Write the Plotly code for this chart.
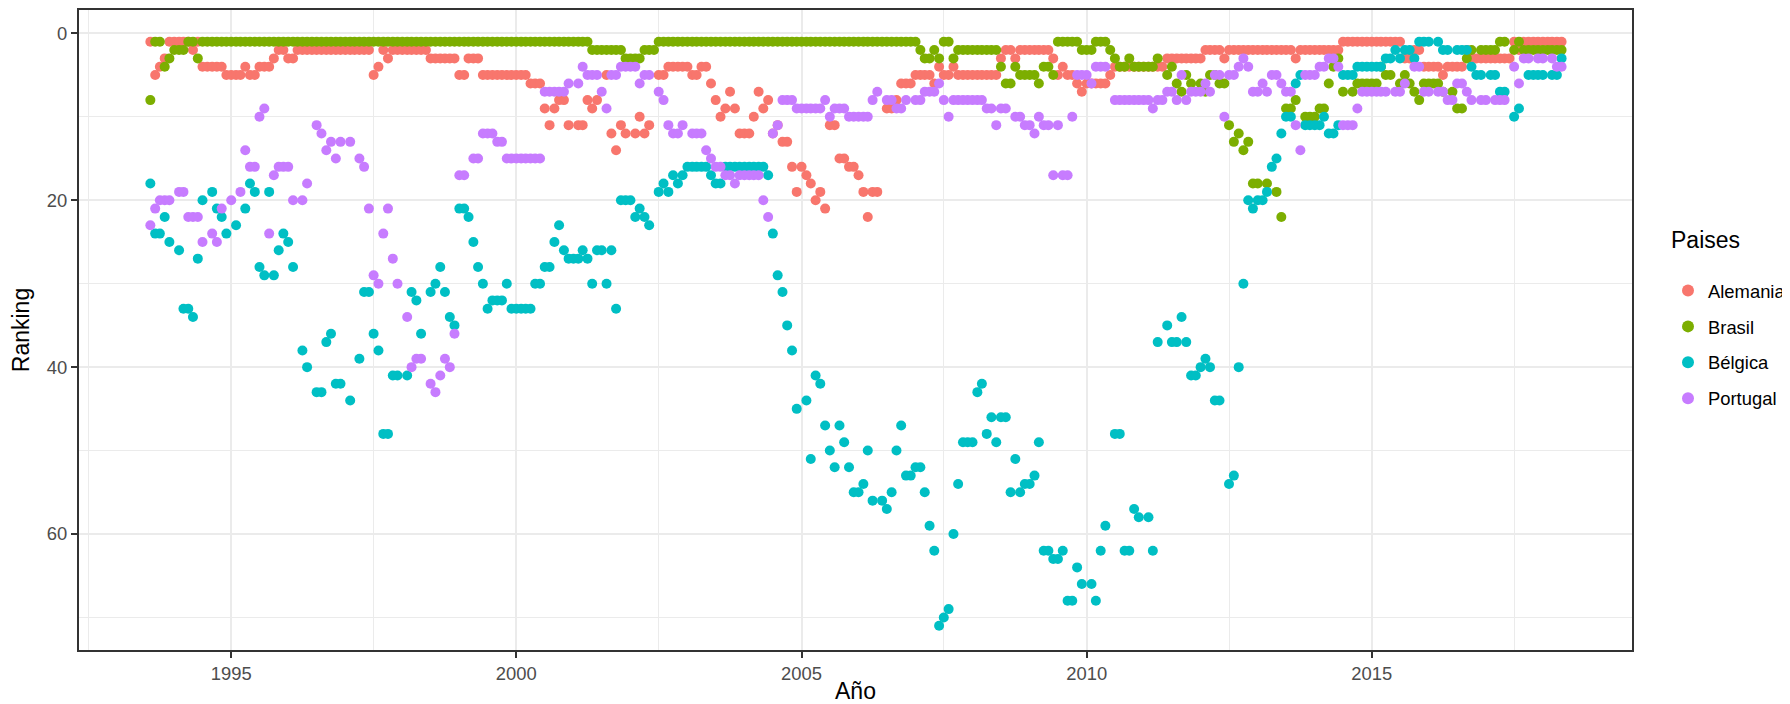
import pandas as pd
import plotly.graph_objects as go

# Monthly FIFA ranking dates (Aug 1993 - May 2018)
fechas = pd.date_range("1993-08-01", periods=298, freq="MS")

N = None
alemania = (
    [1, 5, 4, 3, 1]                                   # 1993
    + [1, 1, 1, 1, 2, 1, 4, 4, 4, 4, 4, 5]            # 1994
    + [5, 5, 5, 4, 5, 5, 4, 4, 4, 3, 2, 2]            # 1995
    + [3, 3, 2, 2, 2, 2, 2, 2, 2, 2, 2, 2]            # 1996
    + [2, 2, 2, 2, 2, 2, 5, 4, 2, 3, 2, 2]            # 1997
    + [2, 2, 2, 2, 2, 2, 3, 3, 3, 3, 3, 3]            # 1998
    + [5, 5, 3, 3, 3, 5, 5, 5, 5, 5, 5, 5]            # 1999
    + [5, 5, 5, 6, 6, 6, 9, 11, 9, 8, 8, 11]          # 2000
    + [N, 11, 11, 8, 9, 8, N, 5, 12, 14, 11, 12]      # 2001
    + [N, 12, 10, 12, 11, N, 5, 5, 4, 4, 4, 4]        # 2002
    + [4, 5, 5, 4, 4, 6, 8, 10, 9, 7, 9, 12]          # 2003
    + [12, 12, 10, 7, 9, 8, 12, 11, 13, 13, 16, 19]   # 2004
    + [16, 17, 18, 20, 19, 21, 11, 11, 15, 15, 16, 16]  # 2005
    + [17, 19, 22, 19, 19, N, 9, 9, 8, 6, 6, 6]       # 2006
    + [5, 5, 5, 5, 6, 4, 5, 5, 4, 5, 5, 5]            # 2007
    + [5, 5, 5, 5, 5, 5, 3, 2, 2, 3, 2, 2]            # 2008
    + [2, 2, 2, 2, 2, 3, 5, 4, 5, 5, 6, 7]            # 2009
    + [6, 6, 6, 6, 6, 5, 4, 4, 4, 4, 4, 4]            # 2010
    + [4, 4, 4, 4, 4, 3, 3, 3, 3, 3, 3, 3]            # 2011
    + [3, 2, 2, 2, 2, 3, 2, 2, 2, 2, 2, 2]            # 2012
    + [2, 2, 2, 2, 2, 2, 2, 2, 3, 2, 2, 2]            # 2013
    + [2, 2, 2, 2, 2, 2, 1, 1, 1, 1, 1, 1]            # 2014
    + [1, 1, 1, 1, 1, 1, 1, 3, 3, 2, 2, 4]            # 2015
    + [4, 4, 4, 5, 4, 4, 4, 4, 2, 3, 3, 3]            # 2016
    + [3, 3, 3, 3, 3, 3, 1, 2, 1, 1, 1, 1]            # 2017
    + [1, 1, 1, 1, 1]                                 # 2018
)
brasil = (
    [8, 1, 1, 4, 3]
    + [2, 2, 2, 1, 1, 3, 1, 1, 1, 1, 1, 1]
    + [1] * 12
    + [1] * 12
    + [1] * 12
    + [1] * 12
    + [1] * 12
    + [1] * 12
    + [1, 1, 1, 1, 2, 2, 2, 2, 2, 2, 2, 3]
    + [3, 3, 3, 2, 2, 2, 1, 1, 1, 1, 1, 1]
    + [1] * 12
    + [1] * 12
    + [1] * 12
    + [1] * 12
    + [1, 2, 3, 3, 2, 3, 1, 1, 3, 2, 2, 2]
    + [2, 2, 2, 2, 2, 2, 4, 6, 6, 4, 5, 5]
    + [5, 5, 6, 4, 4, 5, 1, 1, 1, 1, 1, 2]
    + [2, 2, 1, 1, 1, 2, 3, 4, 4, 3, 4, 4]
    + [4, 4, 4, 3, N, 5, 4, 6, 7, 5, 6, N]
    + [6, 7, 5, 5, 6, 6, 11, 13, 12, 14, 13, 18]
    + [18, N, 18, N, 19, 22, 9, 9, 8, N, 10, 10]
    + [10, 9, 9, 6, 4, 3, 7, N, 7, 6, 6, 6]
    + [6, 6, 4, 5, 5, N, 6, 5, 6, 7, 8, 6]
    + [6, 6, 6, 7, N, 7, 9, 9, 3, 2, N, 2]
    + [2, 2, 2, 1, 1, N, 2, 1, 2, 2, 2, 2]
    + [2, 2, 2, 2, 2]
)
belgica = (
    [18, 24, 24, 22, 25]
    + [N, 26, 33, 33, 34, 27, 20, N, 19, 21, 22, 24]
    + [N, 23, N, 21, 18, 19, 28, 29, 19, 29, 26, 24]
    + [25, 28, N, 38, 40, N, 43, 43, 37, 36, 42, 42]
    + [N, 44, N, 39, 31, 31, 36, 38, 48, 48, 41, 41]
    + [N, 41, 31, 32, 36, N, 31, 30, 28, 31, 34, 35]
    + [21, 21, 22, 25, 28, 30, 33, 32, 32, 32, 30, 33]
    + [33, 33, 33, 33, 30, 30, 28, 28, 25, 23, 26, 27]
    + [27, 27, 26, 27, 30, 26, 26, 30, 26, 33, 20, 20]
    + [20, 22, 21, 22, 23, N, 19, 18, 19, 17, 18, 17]
    + [16, 16, 16, 16, 16, 17, 18, 18, 16, 16, 16, 16]
    + [16, 16, 16, 16, 16, 17, 24, 29, 31, 35, 38, 45]
    + [N, 44, 51, 41, 42, 47, 50, 52, 47, 49, 52, 55]
    + [55, 54, 50, 56, N, 56, 57, 55, 50, 47, 53, 53]
    + [52, 52, 55, 59, 62, 71, 70, 69, 60, 54, 49, 49]
    + [49, 43, 42, 48, 46, 49, 46, 46, 55, 51, 55, 54]
    + [54, 53, 49, 62, 62, 63, 63, 62, 68, 68, 64, 66]
    + [N, 66, 68, 62, 59, N, 48, 48, 62, 62, 57, 58]
    + [N, 58, 62, 37, N, 35, 37, 37, 34, 37, 41, 41]
    + [40, 39, 40, 44, 44, N, 54, 53, 40, 30, 20, 21]
    + [20, 20, 19, 16, 15, 12, 10, 10, 6, 5, 11, 11]
    + [11, 11, 10, 12, 12, 11, 5, 5, 5, 4, 4, 4]
    + [4, 4, 4, 3, 3, 2, 3, 2, 2, 3, 1, 1]
    + [1, N, 1, 2, 2, N, 2, 2, 2, 4, 5, 5]
    + [N, 5, 5, 7, 7, N, 10, 9, N, 5, 5, 5]
    + [5, N, 5, 5, 3]
)
portugal = (
    [23, 21, 20, 20, 20]
    + [N, 19, 19, 22, 22, 22, 25, N, 24, 25, 21, N]
    + [20, N, 19, 14, 16, 16, 10, 9, 24, 17, 16, 16]
    + [16, 20, N, 20, 18, N, 11, 12, 14, 13, 15, 13]
    + [N, 13, N, 15, 16, 21, 29, 30, 24, 21, 27, 30]
    + [N, 34, 40, 39, 39, N, 42, 43, 41, 39, 40, 36]
    + [17, 17, N, 15, 15, 12, 12, 12, 13, 13, 15, 15]
    + [15, 15, 15, 15, 15, 15, 7, 7, 7, 7, 7, 6]
    + [N, 6, 4, 5, 5, 5, 7, 9, 5, 5, 4, 4]
    + [4, 4, 6, 5, 5, N, 7, 8, 11, 12, 12, 11]
    + [N, 12, 12, 12, 14, 15, 16, 16, 17, 17, 18, 17]
    + [17, 17, 17, 17, 20, 22, 12, 11, 8, 8, 8, 9]
    + [9, 9, 9, 9, 9, 8, 10, 9, 9, 9, 10, 10]
    + [10, 10, 10, 8, 7, N, 8, 8, 9, 9, 8, N]
    + [8, 8, 7, 7, 7, 6, 8, 10, 8, 8, 8, 8]
    + [8, 8, 8, 9, 9, 11, 9, 9, N, 10, 10, 11]
    + [11, 12, 10, 11, 11, 17, 11, 17, 17, 10, 5, 5]
    + [5, 6, 4, 4, 4, N, 8, 8, 8, 8, 8, 8]
    + [8, 8, 9, 8, 8, 7, 7, 8, 5, 8, 7, 7]
    + [7, 6, 7, 5, 5, 10, 5, 5, 4, 3, 4, 7]
    + [7, 6, 7, 5, 5, 6, 7, 7, 11, 14, 5, 5]
    + [5, 4, 4, 3, 3, 4, 11, 11, 11, 9, 7, 7]
    + [7, 7, 7, 7, N, 7, 7, 6, N, 4, 4, 7]
    + [7, N, 7, 7, 8, 8, 6, 6, 7, 8, N, 8]
    + [8, N, 8, 8, 8, N, 4, 6, 3, 3, N, 3]
    + [3, N, 3, 4, 4]
)

paises = ["Alemania", "Brasil", "Bélgica", "Portugal"]
series = [alemania, brasil, belgica, portugal]
colores = ["#F8766D", "#7CAE00", "#00BFC4", "#C77CFF"]

FONT = "Liberation Sans, Arial, sans-serif"

# The page body adds an 8px margin, so the figure is drawn 8px smaller
OFF = 8
W, H = 1790 - OFF, 704 - OFF
# plot panel in page pixels: x 79..1632, y 10..650
L = 79 - OFF
T = 10 - OFF
R = W - (1632 - OFF)
B = H - (650 - OFF)
PW, PH = W - L - R, H - T - B


def px_x(page_x):
    return (page_x - OFF - L) / PW


def px_y(page_y):
    return (H - B - (page_y - OFF)) / PH


fig = go.Figure()
for nombre, vals, col in zip(paises, series, colores):
    assert len(vals) == len(fechas)
    fig.add_trace(go.Scatter(
        x=fechas, y=vals, mode="markers", name=nombre,
        legendgroup=nombre,
        marker=dict(color=col, size=10, line=dict(width=0)),
    ))

axis_common = dict(
    showgrid=True, gridcolor="#EBEBEB", gridwidth=2.2,
    zeroline=False, automargin=False,
    showline=True, linecolor="#333333", linewidth=2, mirror=True,
    ticks="outside", ticklen=6, tickwidth=2, tickcolor="#333333",
    tickfont=dict(family=FONT, size=18.4, color="#4D4D4D"),
)

fig.update_layout(
    width=W, height=H,
    paper_bgcolor="white", plot_bgcolor="white",
    margin=dict(l=L, r=R, t=T, b=B, autoexpand=False),
    font=dict(family=FONT),
    xaxis=dict(
        **axis_common,
        type="date",
        range=["1992-05-01", "2019-07-26"],
        tick0="1995-01-01", dtick="M60", tickformat="%Y",
        minor=dict(tick0="1992-07-02", dtick="M60", showgrid=True,
                   gridcolor="#EBEBEB", gridwidth=1.1, ticks=""),
        title=dict(text="Año", font=dict(family=FONT, size=23, color="black"),
                   standoff=11),
    ),
    yaxis=dict(
        **axis_common,
        range=[73.9, -2.8],
        tickvals=[0, 20, 40, 60],
        minor=dict(tickvals=[10, 30, 50, 70], showgrid=True,
                   gridcolor="#EBEBEB", gridwidth=1.1, ticks=""),
        title=dict(text="Ranking", font=dict(family=FONT, size=23, color="black"),
                   standoff=12),
    ),
    legend=dict(
        font=dict(family=FONT, size=18.4, color="black"),
        x=px_x(1668), xanchor="left",
        y=px_y(272), yanchor="top",
        tracegroupgap=9, bgcolor="rgba(0,0,0,0)",
        itemsizing="constant",
    ),
    annotations=[dict(
        text="Paises", showarrow=False,
        xref="paper", yref="paper",
        x=px_x(1669), xanchor="left",
        y=px_y(240), yanchor="middle",
        font=dict(family=FONT, size=23, color="black"),
    )],
    showlegend=True,
)

fig.write_html("out.html")
